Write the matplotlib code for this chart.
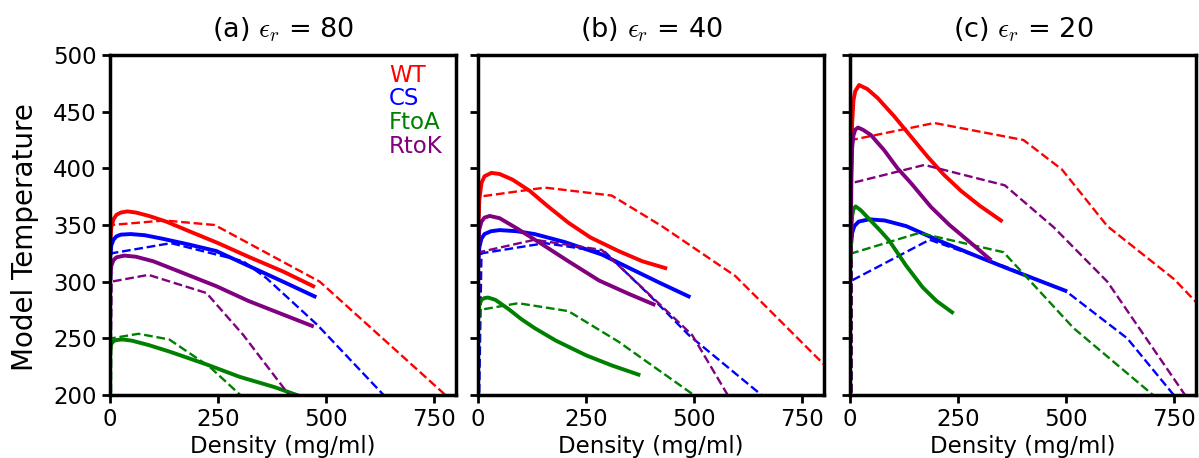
import matplotlib
matplotlib.use("Agg")
import matplotlib.pyplot as plt

plt.rcParams["mathtext.fontset"] = "cm"

titles = [r"(a) $\epsilon_r$ = 80", r"(b) $\epsilon_r$ = 40", r"(c) $\epsilon_r$ = 20"]
variants = ["WT", "CS", "FtoA", "RtoK"]
colors = {"WT": "red", "CS": "blue", "FtoA": "green", "RtoK": "purple"}

# ---- Panel a: solid (model) curves ----
a_WT_x = [0.5, 3, 8, 15, 25, 40, 60, 90, 130, 180, 250, 320, 400, 470]
a_WT_y = [336, 348, 355, 359, 361, 362, 361, 358, 353, 345, 334, 322, 309, 296]
a_CS_x = [0.5, 3, 8, 15, 25, 48, 80, 120, 180, 246, 320, 400, 473]
a_CS_y = [322, 332, 337, 340, 341.5, 342, 341, 338, 333, 327, 314, 300, 287]
a_FtoA_x = [0.5, 3, 8, 15, 29, 50, 90, 140, 223, 300, 380, 432, 470]
a_FtoA_y = [240, 245, 247.5, 248.5, 249, 248, 244, 238, 227, 216, 207, 200, 195]
a_RtoK_x = [0.5, 3, 8, 15, 33, 60, 100, 160, 246, 320, 400, 467]
a_RtoK_y = [305, 314, 319, 321.5, 323, 322, 318, 309, 296, 283, 271, 261]
# ---- Panel a: dashed (simulation) curves ----
a_WT_dx = [1, 3, 126, 242, 485, 790]
a_WT_dy = [180, 350, 354, 350, 300, 195]
a_CS_dx = [1, 3, 141, 308, 362, 479, 640]
a_CS_dy = [180, 325, 334, 318, 303, 262, 197]
a_FtoA_dx = [2, 3, 66, 137, 230, 310]
a_FtoA_dy = [180, 250, 254, 249, 225, 197]
a_RtoK_dx = [1, 3, 89, 223, 308, 420]
a_RtoK_dy = [180, 300, 306, 290, 253, 197]

# ---- Panel b ----
b_WT_x = [0.5, 3, 8, 15, 31, 50, 80, 120, 160, 209, 260, 325, 380, 433]
b_WT_y = [345, 372, 387, 393, 396, 395, 390, 380, 367, 352, 339, 327, 318, 312]
b_CS_x = [0.5, 3, 8, 15, 30, 50, 90, 131, 200, 286, 350, 420, 487]
b_CS_y = [315, 330, 338, 342, 344.5, 345.5, 344.5, 342, 335, 324, 312, 299, 287]
b_FtoA_x = [0.5, 3, 8, 15, 23, 40, 70, 100, 131, 180, 250, 310, 371]
b_FtoA_y = [268, 279, 284, 285.5, 286, 284, 276, 267, 259, 248, 235, 226, 218]
b_RtoK_x = [0.5, 3, 8, 15, 27, 50, 90, 140, 209, 280, 350, 406]
b_RtoK_y = [330, 346, 353, 356.5, 358, 356, 347, 335, 318, 301, 289, 280]

b_WT_dx = [1, 3, 155, 309, 425, 595, 805]
b_WT_dy = [180, 375, 383, 376, 349, 305, 225]
b_CS_dx = [2, 8, 155, 294, 394, 487, 665]
b_CS_dy = [180, 325, 334, 326, 289, 253, 197]
b_FtoA_dx = [1, 3, 93, 209, 325, 510]
b_FtoA_dy = [180, 275, 281, 274, 247, 197]
b_RtoK_dx = [1, 3, 131, 286, 340, 495, 582]
b_RtoK_dy = [180, 326, 337, 328, 309, 253, 197]

# ---- Panel c ----
c_WT_x = [2, 3, 5, 8, 12, 21, 40, 64, 102, 141, 180, 218, 257, 300, 349]
c_WT_y = [330, 400, 440, 460, 468, 473.5, 470, 462, 446, 428, 410, 394, 380, 367, 354]
c_CS_x = [3, 5, 10, 20, 44, 80, 130, 207, 290, 362, 430, 498]
c_CS_y = [335, 343, 349, 353, 355, 354, 349, 336, 323, 312, 302, 292]
c_FtoA_x = [2, 3, 5, 8, 13, 25, 45, 70, 91, 130, 168, 200, 236]
c_FtoA_y = [320, 345, 358, 364, 366.4, 363, 355, 345, 336, 314, 295, 283, 273]
c_RtoK_x = [2, 3, 5, 8, 12, 18.5, 30, 48, 79, 110, 141, 187, 230, 280, 323]
c_RtoK_y = [340, 390, 418, 429, 434, 436, 434, 429.5, 416, 400, 387, 366, 350, 334, 320]

c_WT_dx = [3.5, 3.5, 195, 401, 490, 595, 750, 805]
c_WT_dy = [180, 425, 440, 425, 399, 349, 302, 280]
c_CS_dx = [3, 4, 184, 347, 498, 641, 755]
c_CS_dy = [180, 301, 337, 315, 292, 250, 197]
c_FtoA_dx = [3, 4, 160, 355, 517, 710]
c_FtoA_dy = [180, 325, 343, 326, 259, 197]
c_RtoK_dx = [3, 4, 172, 358, 471, 595, 780]
c_RtoK_dy = [180, 387, 403, 385, 348, 300, 197]

panels = [
    {"WT": (a_WT_x, a_WT_y, a_WT_dx, a_WT_dy), "CS": (a_CS_x, a_CS_y, a_CS_dx, a_CS_dy),
     "FtoA": (a_FtoA_x, a_FtoA_y, a_FtoA_dx, a_FtoA_dy), "RtoK": (a_RtoK_x, a_RtoK_y, a_RtoK_dx, a_RtoK_dy)},
    {"WT": (b_WT_x, b_WT_y, b_WT_dx, b_WT_dy), "CS": (b_CS_x, b_CS_y, b_CS_dx, b_CS_dy),
     "FtoA": (b_FtoA_x, b_FtoA_y, b_FtoA_dx, b_FtoA_dy), "RtoK": (b_RtoK_x, b_RtoK_y, b_RtoK_dx, b_RtoK_dy)},
    {"WT": (c_WT_x, c_WT_y, c_WT_dx, c_WT_dy), "CS": (c_CS_x, c_CS_y, c_CS_dx, c_CS_dy),
     "FtoA": (c_FtoA_x, c_FtoA_y, c_FtoA_dx, c_FtoA_dy), "RtoK": (c_RtoK_x, c_RtoK_y, c_RtoK_dx, c_RtoK_dy)},
]

xticks = [0, 250, 500, 750]
yticks = [200, 250, 300, 350, 400, 450, 500]

fig = plt.figure(figsize=(11.99, 4.58), dpi=100)
lefts = [110 / 1199, 478 / 1199, 850 / 1199]
W = 346 / 1199
B = 1 - 395 / 458
H = 340 / 458

for i, (pan, title) in enumerate(zip(panels, titles)):
    ax = fig.add_axes([lefts[i], B, W, H])
    for v in variants:
        x, y, dx, dy = pan[v]
        ax.plot(dx, dy, color=colors[v], lw=1.7, ls="--")
        ax.plot(x, y, color=colors[v], lw=2.8, label=v)
    ax.set_xlim(0, 800)
    ax.set_ylim(200, 500)
    ax.set_xticks(xticks)
    ax.set_yticks(yticks)
    ax.tick_params(axis="both", labelsize=16.5, length=6, width=2)
    for s in ax.spines.values():
        s.set_linewidth(2.5)
    if i > 0:
        ax.set_yticklabels([])
    else:
        ax.set_ylabel("Model Temperature", fontsize=20)
        ax.yaxis.set_label_coords(-0.205, 0.465)
        leg = ax.legend(loc="upper right", bbox_to_anchor=(0.962, 0.975), frameon=False,
                        handlelength=0, handletextpad=0, labelcolor="linecolor",
                        fontsize=16.5, labelspacing=0.035, borderpad=0, borderaxespad=0)
        for h in leg.legend_handles:
            h.set_visible(False)
    ax.set_xlabel("Density (mg/ml)", fontsize=16.5, labelpad=3)
    ax.set_title(title, fontsize=19.5, pad=13)

fig.savefig("out.png", dpi=100)
